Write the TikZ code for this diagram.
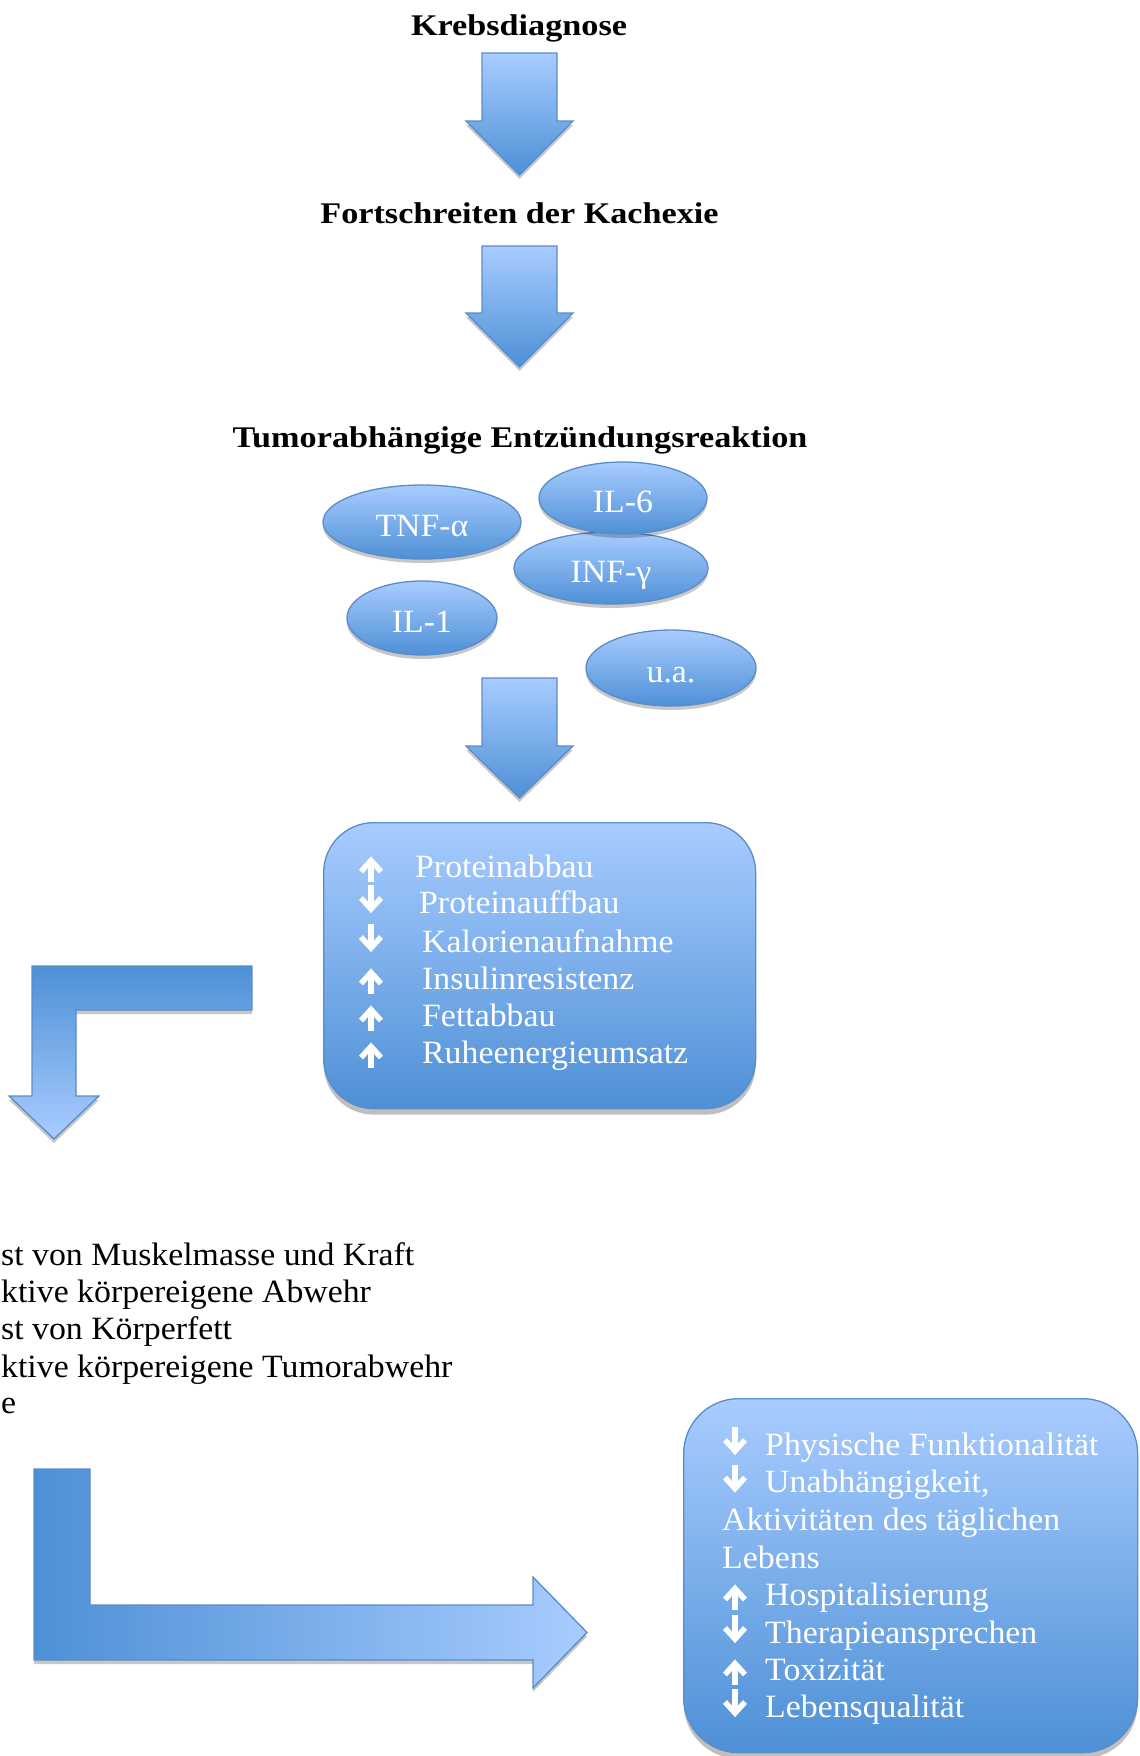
\documentclass[tikz,border=0pt]{standalone}
\usepackage{fontspec}
\setmainfont{Liberation Serif}[FakeStretch=1.04]
\newfontfamily\titlefont{Liberation Serif}[FakeStretch=1.14]
\usetikzlibrary{shapes.geometric,shadows}
\definecolor{blight}{RGB}{168,204,255}
\definecolor{bdark}{RGB}{78,144,214}
\definecolor{bborder}{RGB}{90,140,200}
\tikzset{
  softshadow/.style={drop shadow={shadow xshift=0pt,shadow yshift=-4pt,opacity=0.22,fill=black}},
  arrowbase/.style={draw=bborder,line width=1.3pt,line join=miter,softshadow},
  vgrad/.style={top color=blight,bottom color=bdark},
  cyto/.style={ellipse,draw=bborder,line width=1.3pt,vgrad,softshadow,inner sep=0pt,
    text=white,font=\fontsize{32.5}{36}\selectfont,text height=28pt,text depth=0pt},
  effbox/.style={draw=bborder,line width=1.3pt,vgrad,anchor=north west,inner sep=0pt,
    drop shadow={shadow xshift=0pt,shadow yshift=-6pt,opacity=0.25,fill=black}},
  titletxt/.style={anchor=base,inner sep=0pt,font=\titlefont\bfseries\fontsize{30}{34}\selectfont},
  wtxt/.style={anchor=base west,inner sep=0pt,text=white,font=\fontsize{32.5}{36}\selectfont},
  ktxt/.style={anchor=base west,inner sep=0pt,text=black,font=\fontsize{32.5}{36}\selectfont},
  glyphline/.style={draw=white,line width=5.5pt,line cap=butt,line join=miter},
}
% thick white up/down arrows: #1 = centre x, #2 = baseline y
\newcommand{\myuparrow}[2]{%
  \draw[glyphline] (#1,#2+5) -- (#1,#2-15);
  \draw[glyphline] (#1-10,#2-5.5) -- (#1,#2-16.5) -- (#1+10,#2-5.5);}
\newcommand{\mydownarrow}[2]{%
  \draw[glyphline] (#1,#2-28) -- (#1,#2-6);
  \draw[glyphline] (#1-10,#2-15) -- (#1,#2-4) -- (#1+10,#2-15);}
\begin{document}
\begin{tikzpicture}[x=1pt,y=-1pt]
\useasboundingbox[fill=white] (0,0) rectangle (1140,1756);

% titles
\node[titletxt] (krebs) at (519,35) {Krebsdiagnose};
\node[titletxt] (fort) at (519.5,223) {Fortschreiten der Kachexie};
\node[titletxt] (tumor) at (520,447) {Tumorabhängige Entzündungsreaktion};

% straight block arrows
\draw[arrowbase,vgrad] (482,53) -- (557,53) -- (557,121) -- (573,121) -- (519.5,175) -- (466,121) -- (482,121) -- cycle;
\draw[arrowbase,vgrad] (482,246) -- (557,246) -- (557,313) -- (573,313) -- (519.5,367) -- (466,313) -- (482,313) -- cycle;
\draw[arrowbase,vgrad] (482,678) -- (557,678) -- (557,746) -- (573,746) -- (519.5,798) -- (466,746) -- (482,746) -- cycle;

% cytokines
\node[cyto,minimum width=198pt,minimum height=74pt] (tnf) at (422,522) {TNF-α};
\node[cyto,minimum width=150pt,minimum height=74pt] (il1) at (422,618) {IL-1};
\node[cyto,minimum width=194pt,minimum height=72pt] (inf) at (611,568) {INF-γ};
\node[cyto,minimum width=168pt,minimum height=72pt] (il6) at (623,498) {IL-6};
\node[cyto,minimum width=170pt,minimum height=76pt] (ua) at (671,668) {u.a.};

% box 1
\node[effbox,rounded corners=50pt,minimum width=432pt,minimum height=286pt] (box1) at (323,822) {};
\myuparrow{371}{877}
\node[wtxt] (l1) at (415,877) {Proteinabbau};
\mydownarrow{371}{913}
\node[wtxt] (l2) at (419,913) {Proteinauffbau};
\mydownarrow{371}{952}
\node[wtxt] (l3) at (422,952) {Kalorienaufnahme};
\myuparrow{371}{989}
\node[wtxt] (l4) at (422,989) {Insulinresistenz};
\myuparrow{371}{1026}
\node[wtxt] (l5) at (422,1026) {Fettabbau};
\myuparrow{371}{1063}
\node[wtxt] (l6) at (422,1063) {Ruheenergieumsatz};

% bent arrow down-left
\draw[arrowbase,top color=bdark,bottom color=blight] (252,966) -- (252,1010) -- (76,1010) -- (76,1096) -- (99,1096) -- (54,1139) -- (9,1096) -- (32,1096) -- (32,966) -- cycle;

% left text
\node[ktxt] (k1) at (1,1265) {st von Muskelmasse und Kraft};
\node[ktxt] (k2) at (1,1302) {ktive körpereigene Abwehr};
\node[ktxt] (k3) at (1,1339) {st von Körperfett};
\node[ktxt] (k4) at (1,1377) {ktive körpereigene Tumorabwehr};
\node[ktxt] (k5) at (1,1413) {e};

% L arrow to the right
\draw[arrowbase,left color=bdark,right color=blight] (34,1469) -- (90,1469) -- (90,1605) -- (533,1605) -- (533,1577) -- (587,1632.5) -- (533,1688) -- (533,1660) -- (34,1660) -- cycle;

% box 2
\node[effbox,rounded corners=55pt,minimum width=454pt,minimum height=354pt] (box2) at (683,1398) {};
\mydownarrow{735}{1455}
\node[wtxt] (m1) at (765,1455) {Physische Funktionalität};
\mydownarrow{735}{1492.5}
\node[wtxt] (m2) at (765,1492.5) {Unabhängigkeit,};
\node[wtxt] (m3) at (722,1530) {Aktivitäten des täglichen};
\node[wtxt] (m4) at (722,1568) {Lebens};
\myuparrow{735}{1605}
\node[wtxt] (m5) at (765,1605) {Hospitalisierung};
\mydownarrow{735}{1643}
\node[wtxt] (m6) at (765,1643) {Therapieansprechen};
\myuparrow{735}{1680}
\node[wtxt] (m7) at (765,1680) {Toxizität};
\mydownarrow{735}{1717}
\node[wtxt] (m8) at (765,1717) {Lebensqualität};
\end{tikzpicture}
\end{document}
